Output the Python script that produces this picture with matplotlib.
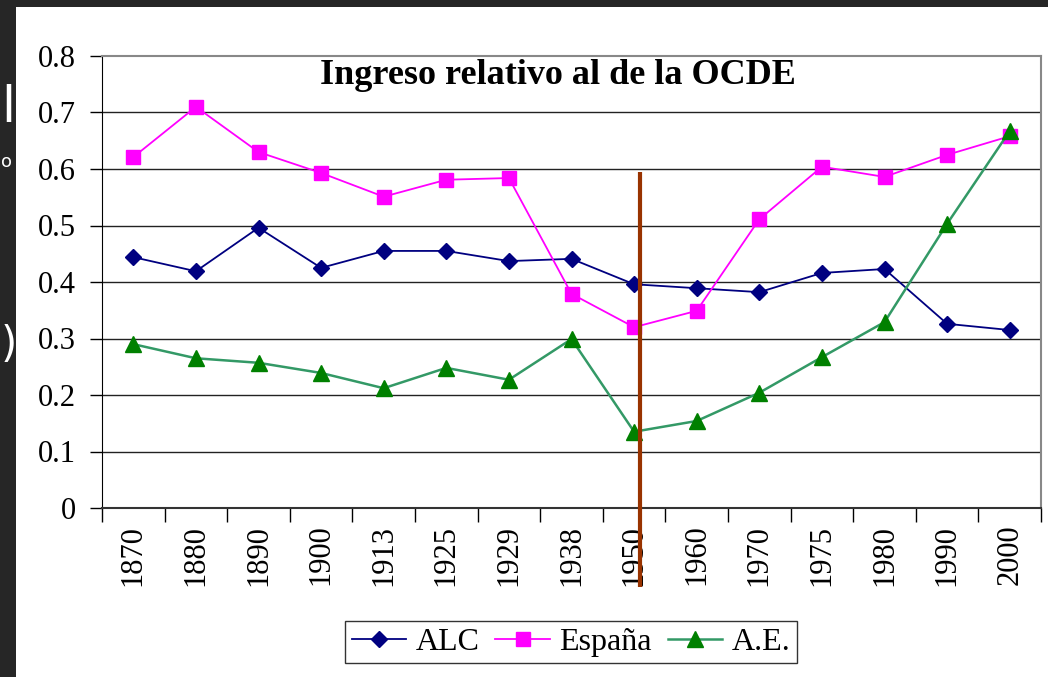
import numpy as np
import matplotlib.pyplot as plt
from matplotlib.patches import Rectangle

# ── data ──────────────────────────────────────────────────────────────────────
YEARS = ["1870", "1880", "1890", "1900", "1913", "1925", "1929", "1938",
         "1950", "1960", "1970", "1975", "1980", "1990", "2000"]
ALC = [0.444, 0.419, 0.496, 0.425, 0.455, 0.455, 0.437, 0.441,
       0.396, 0.389, 0.382, 0.416, 0.423, 0.326, 0.315]
ESPANA = [0.621, 0.710, 0.630, 0.593, 0.551, 0.581, 0.584, 0.379,
          0.320, 0.349, 0.511, 0.604, 0.586, 0.625, 0.658]
AE = [0.290, 0.265, 0.257, 0.239, 0.212, 0.248, 0.227, 0.299,
      0.135, 0.154, 0.204, 0.267, 0.329, 0.503, 0.667]
BREAK_POS = 8.1      # brown marker line, just after 1950
BREAK_TOP = 0.595

plt.rcParams["font.family"] = ["Liberation Serif", "DejaVu Serif"]

W, H = 1048, 677
fig = plt.figure(figsize=(W / 100, H / 100), dpi=100)
fig.patch.set_facecolor("#262626")
fig.add_artist(Rectangle((16 / W, 0), 1 - 16 / W, 1 - 7 / H,
                         transform=fig.transFigure, facecolor="white",
                         edgecolor="none", zorder=0))

# slide text peeking in on the left edge
fig.text(1 / W, 1 - 108 / H, "l", color="white", fontsize=36,
         family="DejaVu Sans", ha="left", va="center", zorder=-1)
fig.text(1 / W, 1 - 162 / H, "o", color="white", fontsize=13,
         family="DejaVu Sans", ha="left", va="center", zorder=-1)
fig.text(1 / W, 1 - 345 / H, ")", color="white", fontsize=30,
         family="DejaVu Sans", ha="left", va="center", zorder=-1)

ax = fig.add_axes([102 / W, 1 - 508 / H, (1041 - 102) / W, (508 - 56) / H])
ax.set_facecolor("white")
x = np.arange(len(YEARS))

ax.plot(x, ALC, color="#000080", lw=1.3, marker="D", ms=8,
        markerfacecolor="#000080", markeredgecolor="#000080", label="ALC", zorder=4)
ax.plot(x, ESPANA, color="#FF00FF", lw=1.3, marker="s", ms=10,
        markerfacecolor="#FF00FF", markeredgecolor="#FF00FF", label="España", zorder=4)
ax.plot(x, AE, color="#339966", lw=1.8, marker="^", ms=11,
        markerfacecolor="#008000", markeredgecolor="#008000", label="A.E.", zorder=4)

# vertical break line, runs past the axis through the tick labels
ax.plot([BREAK_POS, BREAK_POS], [BREAK_TOP, -0.139], color="#993300", lw=3,
        clip_on=False, zorder=5, solid_capstyle="butt")

ax.set_xlim(-0.5, len(YEARS) - 0.5)
ax.set_ylim(0, 0.8)
ax.set_yticks(np.arange(0, 0.81, 0.1))
ax.set_yticklabels(["0", "0.1", "0.2", "0.3", "0.4", "0.5", "0.6", "0.7", "0.8"])
ax.set_xticks(x)
ax.set_xticklabels(YEARS, rotation=90)
ax.set_xticks(np.arange(-0.5, len(YEARS), 1.0), minor=True)
ax.tick_params(axis="x", which="major", length=0, pad=12, labelsize=22)
ax.tick_params(axis="x", which="minor", length=10, width=1, color="black",
               direction="out")
ax.tick_params(axis="y", length=9, width=1, direction="out", pad=10, labelsize=22)

for yv in np.arange(0.1, 0.75, 0.1):
    ax.axhline(yv, color="#222222", lw=1, zorder=1)

ax.spines["left"].set_color("black")
ax.spines["bottom"].set_color("#333333")
ax.spines["bottom"].set_linewidth(1.5)
ax.spines["top"].set_color("#888888")
ax.spines["right"].set_color("#888888")
ax.spines["top"].set_linewidth(1.5)
ax.spines["right"].set_linewidth(1.5)

ax.text(0.486, 0.993, "Ingreso relativo al de la OCDE", transform=ax.transAxes,
        ha="center", va="top", fontsize=26, fontweight="bold")

leg = fig.legend(loc="center", bbox_to_anchor=(571 / W, 1 - 642 / H), ncol=3,
                 fontsize=23, frameon=True, fancybox=False, handlelength=1.7,
                 columnspacing=0.5, handletextpad=0.3, borderpad=0.2)
leg.get_frame().set_edgecolor("black")
leg.get_frame().set_linewidth(1)

fig.savefig("out.png", dpi=100, facecolor=fig.get_facecolor())
